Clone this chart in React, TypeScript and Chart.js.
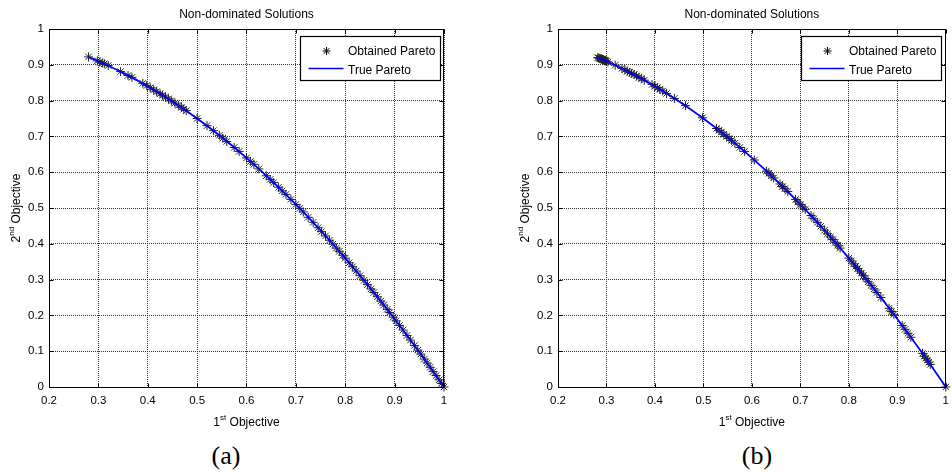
import React, { useEffect, useRef } from "react";
import { Chart, registerables } from "chart.js";

Chart.register(...registerables);

const FONT = "'Liberation Sans', Arial, Helvetica, sans-serif";
const SERIF = "'Liberation Serif', 'Times New Roman', serif";

// ---- text ----
const chartTitle = "Non-dominated Solutions";
const xAxisLabel = ["1", "st", " Objective"];
const yAxisLabel = ["2", "nd", " Objective"];
const legendLabels = ["Obtained Pareto", "True Pareto"];
const panelLabels = ["(a)", "(b)"];
const xTickLabels = ["0.2", "0.3", "0.4", "0.5", "0.6", "0.7", "0.8", "0.9", "1"];
const yTickLabels = ["0", "0.1", "0.2", "0.3", "0.4", "0.5", "0.6", "0.7", "0.8", "0.9", "1"];
const xTickValues = [0.2, 0.3, 0.4, 0.5, 0.6, 0.7, 0.8, 0.9, 1];
const yTickValues = [0, 0.1, 0.2, 0.3, 0.4, 0.5, 0.6, 0.7, 0.8, 0.9, 1];

// ---- true Pareto front ----
const trueParetoX = [0.28, 0.3, 0.35, 0.4, 0.45, 0.5, 0.55, 0.6, 0.65, 0.7, 0.75, 0.8, 0.85, 0.9, 0.95, 1.0];
const trueParetoY = [0.9216, 0.91, 0.8775, 0.84, 0.7975, 0.75, 0.6975, 0.64, 0.5775, 0.51, 0.4375, 0.36, 0.2775, 0.19, 0.0975, 0];

// ---- panel (a): obtained Pareto ----
const obtainedAX = [
  0.28, 0.298, 0.303, 0.308, 0.312, 0.32, 0.345, 0.36, 0.368, 0.39, 0.398, 0.405, 0.412, 0.418, 0.425,
  0.43, 0.436, 0.442, 0.448, 0.455, 0.462, 0.468, 0.473, 0.478, 0.5, 0.52, 0.533, 0.545, 0.552, 0.56,
  0.575, 0.585, 0.6, 0.608, 0.615, 0.625, 0.64, 0.648, 0.655, 0.665, 0.672, 0.68, 0.69, 0.7, 0.708,
  0.715, 0.725, 0.735, 0.745, 0.752, 0.76, 0.768, 0.775, 0.782, 0.788, 0.795, 0.8, 0.808, 0.815, 0.822,
  0.83, 0.838, 0.845, 0.852, 0.858, 0.865, 0.872, 0.878, 0.885, 0.89, 0.897, 0.903, 0.91, 0.917, 0.925,
  0.932, 0.94, 0.947, 0.953, 0.96, 0.966, 0.972, 0.978, 0.984, 0.99, 0.995, 1.0,
];
const obtainedAY = [
  0.922, 0.911, 0.908, 0.905, 0.903, 0.898, 0.881, 0.87, 0.865, 0.848, 0.842, 0.836, 0.83, 0.825, 0.819,
  0.815, 0.81, 0.805, 0.799, 0.793, 0.787, 0.781, 0.776, 0.772, 0.75, 0.73, 0.716, 0.703, 0.695, 0.686,
  0.669, 0.658, 0.64, 0.63, 0.622, 0.609, 0.59, 0.58, 0.571, 0.558, 0.548, 0.538, 0.524, 0.51, 0.499,
  0.489, 0.474, 0.46, 0.445, 0.434, 0.422, 0.41, 0.399, 0.388, 0.379, 0.368, 0.36, 0.347, 0.336, 0.324,
  0.311, 0.298, 0.286, 0.274, 0.264, 0.252, 0.24, 0.229, 0.217, 0.208, 0.195, 0.185, 0.172, 0.159, 0.144,
  0.131, 0.116, 0.103, 0.092, 0.078, 0.067, 0.055, 0.043, 0.032, 0.02, 0.01, 0,
];

// ---- panel (b): obtained Pareto ----
const obtainedBX = [
  0.282, 0.284, 0.286, 0.288, 0.29, 0.292, 0.294, 0.296, 0.298, 0.3, 0.303, 0.318,
  0.332, 0.338, 0.343, 0.348, 0.352, 0.357, 0.362, 0.367, 0.372, 0.378,
  0.394, 0.4, 0.405, 0.41, 0.416, 0.424,
  0.44, 0.463, 0.498,
  0.527, 0.532, 0.537, 0.542, 0.548, 0.553, 0.558, 0.565, 0.575, 0.585,
  0.605, 0.63, 0.635, 0.64, 0.645,
  0.658, 0.663, 0.668, 0.674,
  0.69, 0.695, 0.7, 0.705, 0.71,
  0.722, 0.728, 0.735, 0.742, 0.75, 0.756,
  0.762, 0.767, 0.772, 0.777, 0.782,
  0.8, 0.805, 0.81, 0.814, 0.818, 0.822, 0.826, 0.83, 0.835, 0.84, 0.846, 0.852, 0.858, 0.866,
  0.883, 0.888, 0.893,
  0.91, 0.916, 0.922, 0.928,
  0.952, 0.956, 0.959, 0.962, 0.965, 0.968,
  1.0,
];
const obtainedBY = [
  0.92, 0.919, 0.918, 0.917, 0.916, 0.915, 0.914, 0.912, 0.911, 0.91, 0.908, 0.899,
  0.89, 0.886, 0.882, 0.879, 0.876, 0.873, 0.869, 0.865, 0.862, 0.857,
  0.845, 0.84, 0.836, 0.832, 0.827, 0.82,
  0.806, 0.786, 0.752,
  0.722, 0.717, 0.712, 0.706, 0.7, 0.694, 0.689, 0.681, 0.669, 0.658,
  0.634, 0.603, 0.597, 0.59, 0.584,
  0.567, 0.56, 0.554, 0.546,
  0.524, 0.517, 0.51, 0.503, 0.496,
  0.479, 0.47, 0.46, 0.449, 0.438, 0.428,
  0.419, 0.412, 0.404, 0.396, 0.388,
  0.36, 0.352, 0.344, 0.337, 0.331, 0.324, 0.318, 0.311, 0.303, 0.294, 0.284, 0.274, 0.264, 0.25,
  0.22, 0.211, 0.203,
  0.172, 0.161, 0.15, 0.139,
  0.094, 0.086, 0.08, 0.075, 0.069, 0.063,
  0,
];

type Area = { left: number; right: number; top: number; bottom: number };

function drawSupText(ctx: CanvasRenderingContext2D, parts: string[], cx: number, baseline: number, size: number) {
  const main = `${size}px ${FONT}`;
  const small = `${Math.round(size * 0.7)}px ${FONT}`;
  ctx.font = main;
  const w1 = ctx.measureText(parts[0]).width;
  const w3 = ctx.measureText(parts[2]).width;
  ctx.font = small;
  const w2 = ctx.measureText(parts[1]).width;
  let x = cx - (w1 + w2 + w3) / 2;
  ctx.textAlign = "left";
  ctx.textBaseline = "alphabetic";
  ctx.font = main;
  ctx.fillText(parts[0], x, baseline);
  x += w1;
  ctx.font = small;
  ctx.fillText(parts[1], x, baseline - size * 0.5);
  x += w2;
  ctx.font = main;
  ctx.fillText(parts[2], x, baseline);
}

function drawStar(ctx: CanvasRenderingContext2D, x: number, y: number, r: number) {
  const d = r * Math.SQRT1_2;
  ctx.beginPath();
  ctx.moveTo(x - r, y);
  ctx.lineTo(x + r, y);
  ctx.moveTo(x, y - r);
  ctx.lineTo(x, y + r);
  ctx.moveTo(x - d, y - d);
  ctx.lineTo(x + d, y + d);
  ctx.moveTo(x - d, y + d);
  ctx.lineTo(x + d, y - d);
  ctx.stroke();
}

const overlayPlugin = {
  id: "matlabOverlay",
  afterDraw(chart: any) {
    const ctx: CanvasRenderingContext2D = chart.ctx;
    const a = chart.chartArea;
    const xs = chart.scales.x;
    const ys = chart.scales.y;
    ctx.save();
    ctx.setLineDash([]);
    ctx.strokeStyle = "#000";
    ctx.fillStyle = "#000";
    ctx.lineWidth = 1;
    const L = Math.round(a.left) + 0.5;
    const R = Math.round(a.right) - 0.5;
    const T = Math.round(a.top) + 0.5;
    const B = Math.round(a.bottom) + 0.5;
    // box
    ctx.strokeRect(L, T, R - L, B - T);
    // inward tick marks
    ctx.beginPath();
    xTickValues.forEach((v) => {
      const px = Math.round(xs.getPixelForValue(v)) + 0.5;
      ctx.moveTo(px, B);
      ctx.lineTo(px, B - 4);
      ctx.moveTo(px, T);
      ctx.lineTo(px, T + 4);
    });
    yTickValues.forEach((v) => {
      const py = Math.round(ys.getPixelForValue(v)) + 0.5;
      ctx.moveTo(L, py);
      ctx.lineTo(L + 4, py);
      ctx.moveTo(R, py);
      ctx.lineTo(R - 4, py);
    });
    ctx.stroke();

    // title
    ctx.font = `12px ${FONT}`;
    ctx.textAlign = "center";
    ctx.textBaseline = "alphabetic";
    ctx.fillText(chartTitle, (a.left + a.right) / 2, 18);

    // x axis label
    drawSupText(ctx, xAxisLabel, (a.left + a.right) / 2, 426, 12);

    // y axis label
    ctx.save();
    ctx.translate(a.left - 29, (a.top + a.bottom) / 2);
    ctx.rotate(-Math.PI / 2);
    drawSupText(ctx, yAxisLabel, 0, 0, 12);
    ctx.restore();

    // legend
    const bR = Math.round(a.right - 4.5) + 0.5;
    const bL = bR - 140;
    const bT = Math.round(a.top + 6.5) + 0.5;
    const bB = bT + 44;
    ctx.fillStyle = "#fff";
    ctx.fillRect(bL, bT, bR - bL, bB - bT);
    ctx.strokeStyle = "#000";
    ctx.lineWidth = 1.2;
    ctx.strokeRect(bL, bT, bR - bL, bB - bT);
    ctx.lineWidth = 1;
    drawStar(ctx, bL + 26, bT + 14.5, 4);
    ctx.strokeStyle = "#0000ff";
    ctx.lineWidth = 1.5;
    ctx.beginPath();
    ctx.moveTo(bL + 8, bT + 32);
    ctx.lineTo(bL + 43, bT + 32);
    ctx.stroke();
    ctx.fillStyle = "#000";
    ctx.font = `12px ${FONT}`;
    ctx.textAlign = "left";
    ctx.textBaseline = "alphabetic";
    ctx.fillText(legendLabels[0], bL + 47.5, bT + 18.7);
    ctx.fillText(legendLabels[1], bL + 47.5, bT + 37);
    ctx.restore();
  },
};

function Panel(props: { left: number; width: number; height: number; area: Area; ox: number[]; oy: number[] }) {
  const ref = useRef<HTMLCanvasElement>(null);
  useEffect(() => {
    const { width, height, area, ox, oy } = props;
    const canvas = ref.current!;
    const obtained = ox.map((x, i) => ({ x, y: oy[i] }));
    const truePareto = trueParetoX.map((x, i) => ({ x, y: trueParetoY[i] }));
    const tickFont = { family: FONT, size: 11.5 };
    const chart = new Chart(canvas, {
      type: "scatter",
      data: {
        datasets: [
          {
            label: legendLabels[1],
            data: truePareto,
            showLine: true,
            borderColor: "#0000ff",
            borderWidth: 1.8,
            pointRadius: 0,
            cubicInterpolationMode: "monotone",
            order: 0,
          } as any,
          {
            label: legendLabels[0],
            data: obtained,
            showLine: false,
            pointStyle: "star",
            pointRadius: 4.5,
            borderColor: "#222",
            backgroundColor: "transparent",
            borderWidth: 1,
            clip: false,
            order: 1,
          } as any,
        ],
      },
      options: {
        animation: false,
        responsive: false,
        devicePixelRatio: 1,
        events: [],
        layout: { padding: { left: 0, top: area.top, right: width - area.right, bottom: 0 } },
        plugins: { legend: { display: false }, tooltip: { enabled: false }, title: { display: false } },
        scales: {
          x: {
            type: "linear",
            min: 0.2,
            max: 1,
            afterFit: (s: any) => {
              s.height = height - area.bottom;
            },
            ticks: {
              stepSize: 0.1,
              autoSkip: false,
              maxRotation: 0,
              padding: 7,
              color: "#000",
              font: tickFont,
              callback: (_v: any, i: number) => xTickLabels[i],
            },
            grid: { color: "#333", lineWidth: 1, drawTicks: false },
            border: { display: false, dash: [1, 1] },
          },
          y: {
            type: "linear",
            min: 0,
            max: 1,
            afterFit: (s: any) => {
              s.width = area.left;
            },
            ticks: {
              stepSize: 0.1,
              autoSkip: false,
              padding: 5,
              color: "#000",
              font: tickFont,
              callback: (_v: any, i: number) => yTickLabels[i],
            },
            grid: { color: "#333", lineWidth: 1, drawTicks: false },
            border: { display: false, dash: [1, 1] },
          },
        },
      } as any,
      plugins: [overlayPlugin],
    });
    return () => chart.destroy();
  }, []);
  return (
    <canvas
      ref={ref}
      width={props.width}
      height={props.height}
      style={{ position: "absolute", left: props.left, top: 0, width: props.width, height: props.height, display: "block" }}
    />
  );
}

const labelStyle: React.CSSProperties = {
  position: "absolute",
  top: 440,
  width: 80,
  textAlign: "center",
  fontFamily: SERIF,
  fontSize: 26,
  lineHeight: "32px",
  color: "#000",
};

export default function App() {
  return (
    <div style={{ position: "absolute", left: 0, top: 0, width: 952, height: 472, overflow: "hidden", background: "#fff" }}>
      <Panel left={0} width={476} height={440} area={{ left: 49, right: 444, top: 29, bottom: 387 }} ox={obtainedAX} oy={obtainedAY} />
      <Panel left={476} width={480} height={440} area={{ left: 82, right: 476, top: 29, bottom: 387 }} ox={obtainedBX} oy={obtainedBY} />
      <div style={{ ...labelStyle, left: 226 - 40 }}>{panelLabels[0]}</div>
      <div style={{ ...labelStyle, left: 757 - 40 }}>{panelLabels[1]}</div>
    </div>
  );
}
